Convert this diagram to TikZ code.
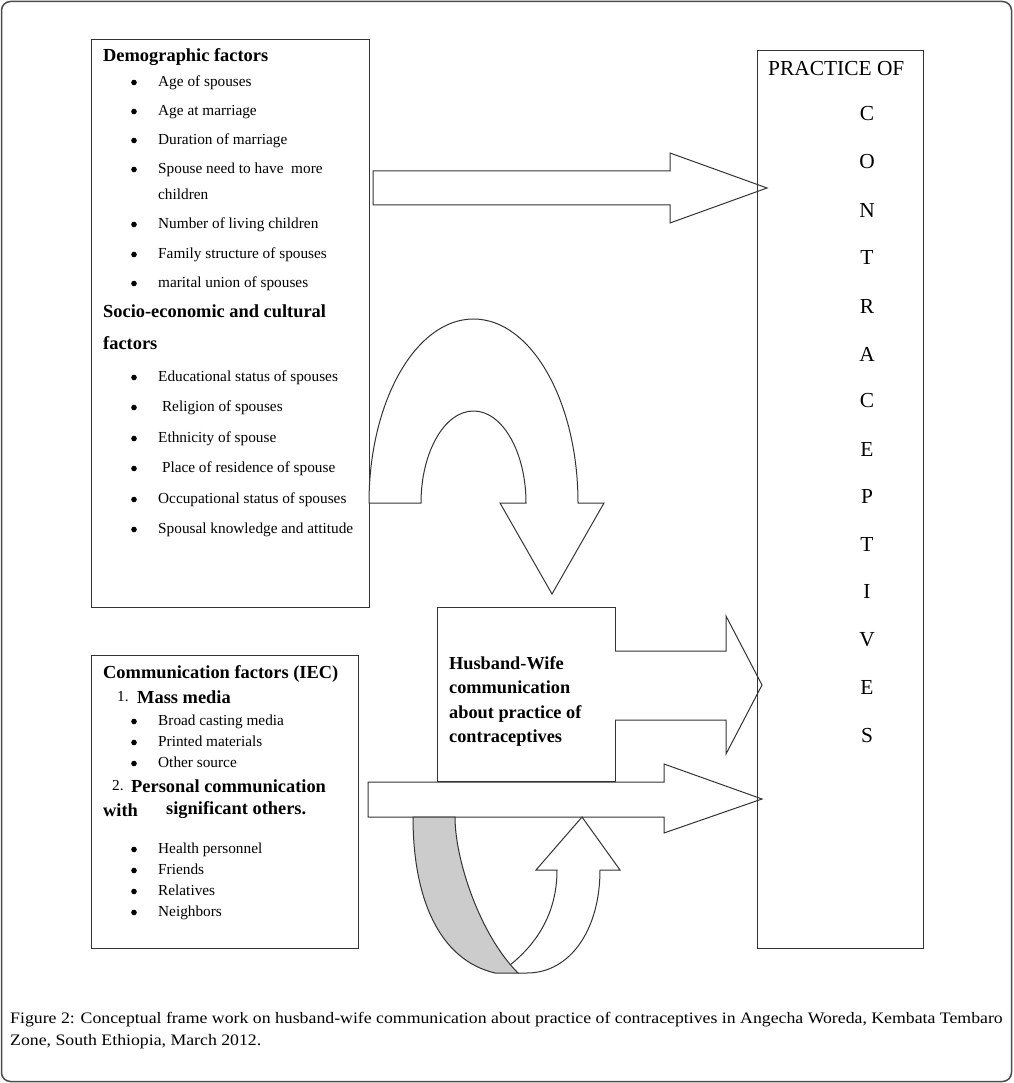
\documentclass[tikz,border=0pt]{standalone}
\usepackage{fontspec}
\setmainfont{Liberation Serif}
\begin{document}
\begin{tikzpicture}[x=1pt,y=-1pt,line join=miter]
	\tikzset{box/.style={draw=black!80, line width=1pt, anchor=north west, inner sep=0pt},
		head/.style={font=\fontsize{18.4}{22}\selectfont\bfseries, anchor=west, inner sep=0pt, yshift=-1.5pt},
		plain/.style={font=\fontsize{15.3}{18}\selectfont, anchor=west, inner sep=0pt, text height=10.5pt, text depth=3.3pt, yshift=-1.5pt},
		item/.style={plain, label={[circle, fill=black, inner sep=0pt, minimum size=5.6pt, label distance=21pt]left:{}}},
		blockarrow/.style={draw=black!80, line width=1pt, fill=white},
		letter/.style={font=\fontsize{21.4}{24}\selectfont, inner sep=0pt}}
	\useasboundingbox (0,0) rectangle (1013,1083);
	\draw[black!70, line width=1.5pt, rounded corners=9pt] (1.5,1.5) rectangle (1011.5,1081.5);
	% boxes on the left
	\node[box, minimum width=278pt, minimum height=568pt] (demo) at (91,39) {};
	\node[box, minimum width=267pt, minimum height=293pt] (comm) at (91,655) {};
	\node[box, minimum width=178pt, minimum height=174pt] (hw) at (437,607) {};
	% demographic and socio-economic factors
	\node[head] (demohead) at (103,56) {Demographic factors};
	\node[item] (d1) at (158,81) {Age of spouses};
	\node[item] (d2) at (158,110) {Age at marriage};
	\node[item] (d3) at (158,139) {Duration of marriage};
	\node[item] (d4) at (158,168) {Spouse need to have~ more};
	\node[plain] (d4b) at (158,194) {children};
	\node[item] (d5) at (158,223) {Number of living children};
	\node[item] (d6) at (158,253) {Family structure of spouses};
	\node[item] (d7) at (158,282) {marital union of spouses};
	\node[head] (sochead) at (103,310) {Socio-economic and cultural};
	\node[head] (sochead2) at (103,342) {factors};
	\node[item] (s1) at (158,376) {Educational status of spouses};
	\node[item] (s2) at (158,406) {\ Religion of spouses};
	\node[item] (s3) at (158,437) {Ethnicity of spouse};
	\node[item] (s4) at (158,467) {\ Place of residence of spouse};
	\node[item] (s5) at (158,498) {Occupational status of spouses};
	\node[item] (s6) at (158,528) {Spousal knowledge and attitude};
	% communication factors
	\node[head] (commhead) at (103,672) {Communication factors (IEC)};
	\node[plain] (n1) at (117,696) {1.};
	\node[head] (mass) at (137,696) {Mass media};
	\node[item] (m1) at (158,720) {Broad casting media};
	\node[item] (m2) at (158,741) {Printed materials};
	\node[item] (m3) at (158,762) {Other source};
	\node[plain] (n2) at (112,785) {2.};
	\node[head] (pers) at (131,785) {Personal communication};
	\node[head] (with) at (103,809) {with};
	\node[head] (sig) at (166,809) {significant others.};
	\node[item] (p1) at (158,848) {Health personnel};
	\node[item] (p2) at (158,869) {Friends};
	\node[item] (p3) at (158,890) {Relatives};
	\node[item] (p4) at (158,911) {Neighbors};
	% husband-wife communication
	\node[head, align=left, font=\fontsize{18.3}{24.5}\selectfont\bfseries] (hwtext) at (449,700)
		{Husband-Wife\\communication\\about practice of\\contraceptives};
	% block arrows
	\draw[blockarrow] (373,171) -- (670,171) -- (670,153) -- (767,188) -- (670,223) -- (670,205) -- (373,205) -- cycle;
	\draw[blockarrow] (615,651) -- (726,651) -- (726,616) -- (762,685) -- (726,754) -- (726,720) -- (615,720);
	\draw[blockarrow] (368,782) -- (664,782) -- (664,764) -- (762,799) -- (664,833) -- (664,817) -- (368,817) -- cycle;
	\draw[blockarrow] (369,503) -- (421,503) arc[start angle=180, end angle=0, x radius=52.5pt, y radius=92pt]
		-- (500,503) -- (552,594) -- (604,503) -- (578,503)
		arc[start angle=0, end angle=180, x radius=104.5pt, y radius=184pt] -- cycle;
	% loop under the long arrow
	\draw[blockarrow] (510,965) .. controls (535,945) and (557,915) .. (557,870) -- (536,870) -- (582,817)
		-- (620,870) -- (600,870) .. controls (600,930) and (570,973) .. (527,973) -- (518,973);
	\draw[black!80, line width=1pt, fill=black!20] (413,817) -- (455,817) .. controls (455,860) and (480,935) .. (518,973)
		-- (495,973) .. controls (440,960) and (413,900) .. (413,817) -- cycle;
	% practice of contraceptives
	\node[box, minimum width=166pt, minimum height=898pt] (prac) at (757,50) {};
	\node[letter, anchor=west] (prachead) at (768,69) {PRACTICE OF};
	\node[letter] (l1) at (867,114) {C};
	\node[letter] (l2) at (867,162) {O};
	\node[letter] (l3) at (867,210) {N};
	\node[letter] (l4) at (867,257) {T};
	\node[letter] (l5) at (867,306) {R};
	\node[letter] (l6) at (867,354) {A};
	\node[letter] (l7) at (867,401) {C};
	\node[letter] (l8) at (867,449) {E};
	\node[letter] (l9) at (867,496) {P};
	\node[letter] (l10) at (867,544) {T};
	\node[letter] (l11) at (867,591) {I};
	\node[letter] (l12) at (867,640) {V};
	\node[letter] (l13) at (867,687) {E};
	\node[letter] (l14) at (867,736) {S};
	% caption
	\node[anchor=west, inner sep=0pt, font=\fontsize{16}{22}\selectfont] (cap1) at (10,1020)
		{\scalebox{1.11}[1]{Figure 2: Conceptual frame work on husband-wife communication about practice of contraceptives in Angecha Woreda, Kembata Tembaro}};
	\node[anchor=west, inner sep=0pt, font=\fontsize{16}{22}\selectfont] (cap2) at (10,1042)
		{\scalebox{1.11}[1]{Zone, South Ethiopia, March 2012.}};
\end{tikzpicture}
\end{document}
